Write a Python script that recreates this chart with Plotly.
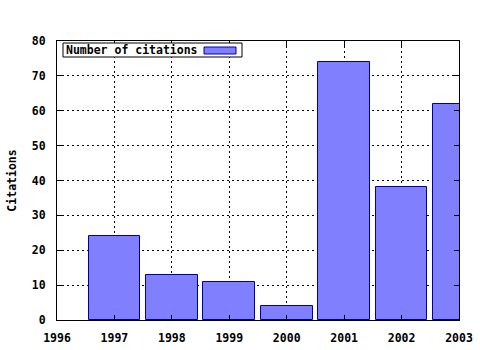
import plotly.graph_objects as go

years = [1997, 1998, 1999, 2000, 2001, 2002, 2003]
citations = [24, 13, 11, 4, 74, 38, 62]
series_name = "Number of citations"
x_ticks = [1996, 1997, 1998, 1999, 2000, 2001, 2002, 2003]
y_ticks = [0, 10, 20, 30, 40, 50, 60, 70, 80]

FONT = dict(family="DejaVu Sans Mono", size=11.5, color="black", weight="bold")
W, H = 480, 350
L, R, T, B = 57, 21, 41, 30

fig = go.Figure()
fig.add_trace(go.Bar(
    x=years, y=citations, width=0.9, name=series_name,
    marker=dict(color="#8080ff", line=dict(color="#0000a0", width=1)),
    showlegend=False,
))

def px_to_paper_x(px):
    return (px - L) / (W - L - R)

def px_to_paper_y(py):
    return 1 - (py - T) / (H - T - B)

shapes = [
    dict(type="rect", xref="paper", yref="paper",
         x0=px_to_paper_x(63), x1=px_to_paper_x(242),
         y0=px_to_paper_y(57), y1=px_to_paper_y(43),
         line=dict(color="black", width=1), fillcolor="white", layer="above"),
    dict(type="rect", xref="paper", yref="paper",
         x0=px_to_paper_x(204), x1=px_to_paper_x(236),
         y0=px_to_paper_y(54), y1=px_to_paper_y(47),
         line=dict(color="#0000a0", width=1), fillcolor="#8080ff", layer="above"),
]
annotations = [
    dict(text=series_name, xref="paper", yref="paper",
         x=px_to_paper_x(64), y=px_to_paper_y(50), xanchor="left", yanchor="middle",
         showarrow=False, font=FONT),
]

fig.update_layout(
    width=W, height=H,
    margin=dict(l=L, r=R, t=T, b=B, pad=0, autoexpand=False),
    paper_bgcolor="white", plot_bgcolor="white",
    font=FONT,
    shapes=shapes, annotations=annotations,
    bargap=0,
    xaxis=dict(
        range=[1996, 2003], tickvals=x_ticks, ticktext=[str(v) for v in x_ticks],
        ticks="inside", ticklen=5, tickcolor="black", showline=True, linecolor="black",
        linewidth=1, mirror="ticks", showgrid=True, gridcolor="black", griddash="2px,3px",
        gridwidth=1, zeroline=False, tickfont=FONT, ticklabelstandoff=7,
        automargin=False,
    ),
    yaxis=dict(
        range=[0, 80], tickvals=y_ticks,
        ticks="inside", ticklen=5, tickcolor="black", showline=True, linecolor="black",
        linewidth=1, mirror="ticks", showgrid=True, gridcolor="black", griddash="2px,3px",
        gridwidth=1, zeroline=False, tickfont=FONT, ticklabelstandoff=8,
        automargin=False,
        title=dict(text="Citations", font=FONT, standoff=12),
    ),
)

fig.write_html("out.html")
